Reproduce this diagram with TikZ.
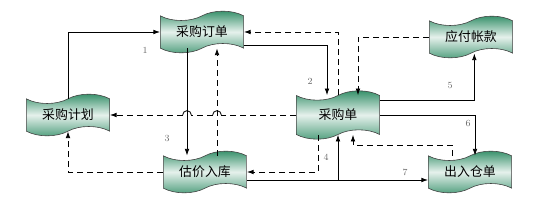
\documentclass[tikz,border=0pt]{standalone}
\usepackage{fontspec}
\newfontfamily\cjk{Noto Sans CJK SC}
\usetikzlibrary{shapes.symbols,arrows.meta,calc}
\definecolor{docgreen}{RGB}{46,140,100}
\tikzset{
  doc/.style={tape, draw=black!75, line width=0.5pt,
    top color=docgreen, bottom color=docgreen!85, middle color=docgreen!12,
    minimum width=25mm, minimum height=12.5mm, tape bend height=2.8mm,
    inner sep=1pt, font=\cjk\fontsize{11}{13}\selectfont},
  flow/.style={-{Latex[length=2mm,width=1.4mm]}, line width=0.7pt},
  back/.style={flow, dash pattern=on 1.8mm off 1.2mm},
  hop/.style={line width=0.7pt},
  num/.style={font=\fontsize{8}{9}\selectfont, text=black!60},
}
\begin{document}
\begin{tikzpicture}[x=0.3mm,y=0.3mm]
  \useasboundingbox (0,0) rectangle (539,205);

  % 单据节点
  \node[doc] (order) at (202,173) {采购订单};
  \node[doc] (plan)  at (68,90)   {采购计划};
  \node[doc] (est)   at (205,33)  {估价入库};
  \node[doc, minimum height=14.5mm] (buy) at (338,90) {采购单};
  \node[doc] (pay)   at (471,168) {应付帐款};
  \node[doc] (store) at (470,33)  {出入仓单};

  % 1: 计划 -> 订单
  \draw[flow] (plan.north) |- (order.west);
  % 2: 订单 <-> 采购单
  \draw[flow] ([yshift=-3.9mm]order.east) -| ([xshift=-3.3mm]buy.north);
  \draw[back] (buy.north) |- (order.east);
  % 3: 订单 <-> 估价入库
  \draw[flow] ([xshift=-4.5mm]order.south) -- ([xshift=-4.5mm]order.south |- est.north);
  \draw[back] ([xshift=3.6mm]est.north) -- ([xshift=3.6mm]est.north |- order.south);

  % 采购单 -> 计划 (跨线)
  \coordinate (hopA) at ([xshift=-4.5mm]order.south |- buy.west);
  \coordinate (hopB) at ([xshift=3.6mm]est.north |- buy.west);
  \draw[back, -] (buy.west) -- ([xshift=1.3mm]hopB);
  \draw[hop] ([xshift=1.3mm]hopB) arc[start angle=0, end angle=180, radius=1.3mm];
  \draw[back, -] ([xshift=-1.3mm]hopB) -- ([xshift=1.3mm]hopA);
  \draw[hop] ([xshift=1.3mm]hopA) arc[start angle=0, end angle=180, radius=1.3mm];
  \draw[back] ([xshift=-1.3mm]hopA) -- (plan.east);
  \draw[back] (est.west) -| (plan.south);

  % 4: 采购单 -> 估价入库
  \draw[back] ([xshift=-6mm]buy.south) |- (est.east);
  % 7: 估价入库 -> 出入仓单
  \coordinate (line7) at ([yshift=-2.4mm]est.east);
  \draw[flow] (line7) -- (line7 -| store.west);
  \draw[flow] (line7 -| buy.south) -- (buy.south);
  \draw[back] ([xshift=-5.4mm]store.north) |- ([xshift=4.5mm,yshift=-9mm]buy.center)
    -- ([xshift=4.5mm]buy.south);

  % 5: 采购单 <-> 应付帐款
  \draw[back] (pay.west) -| ([xshift=6mm]buy.north);
  \draw[flow] ([yshift=4.5mm]buy.east) -| ([xshift=1mm]pay.south);
  % 6: 采购单 -> 出入仓单
  \draw[flow] (buy.east) -| ([xshift=1.5mm]store.north);

  % 编号
  \node[num] (n1) at (145,155) {1};
  \node[num] (n2) at (310,124) {2};
  \node[num] (n3) at (167,67)  {3};
  \node[num] (n4) at (326,48)  {4};
  \node[num] (n5) at (450,120) {5};
  \node[num] (n6) at (468,82)  {6};
  \node[num] (n7) at (405,33)  {7};
\end{tikzpicture}
\end{document}
